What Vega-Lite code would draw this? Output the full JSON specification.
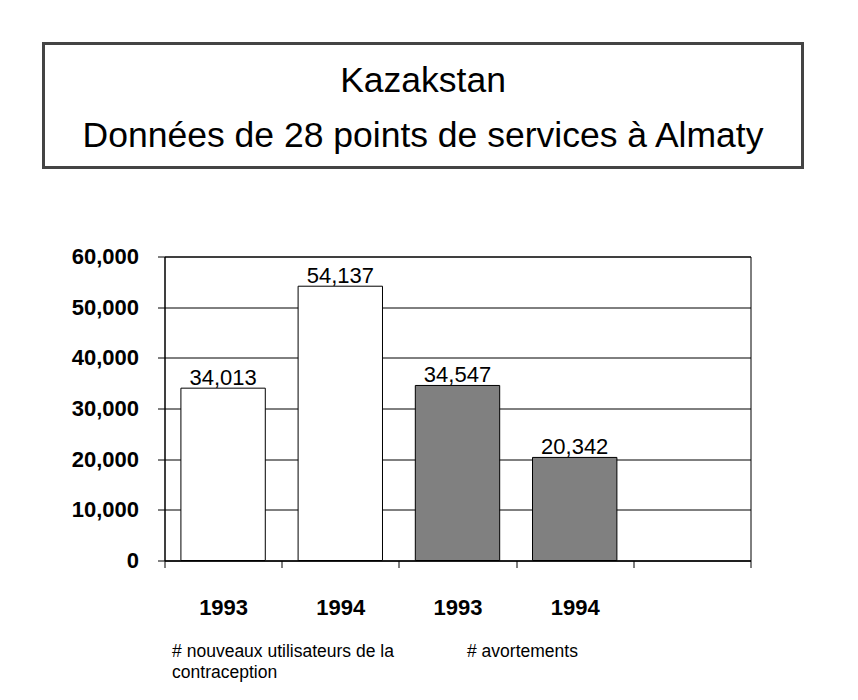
{
  "$schema": "https://vega.github.io/schema/vega-lite/v6.json",
  "padding": {"left": 41.5, "top": 41.5, "right": 0, "bottom": 0},
  "background": "white",
  "config": {"font": "Liberation Sans", "view": {"stroke": null}},
  "spacing": 75,
  "vconcat": [
    {
      "width": 759,
      "height": 124,
      "view": {"stroke": "#444444", "strokeWidth": 3},
      "data": {"values": [
        {"line": "Kazakstan", "i": 1},
        {"line": "Données de 28 points de services à Almaty", "i": 2}
      ]},
      "mark": {"type": "text", "fontSize": 35.5, "baseline": "alphabetic", "dy": 14, "color": "black", "font": "Liberation Sans"},
      "encoding": {
        "y": {"field": "i", "type": "ordinal", "scale": {"type": "point", "padding": 0.627}, "axis": null},
        "text": {"field": "line", "type": "nominal"}
      }
    },
    {
      "spacing": 0,
      "hconcat": [
        {
          "width": 1,
          "height": 304,
          "view": {"stroke": null},
          "data": {"values": []},
          "mark": "point",
          "encoding": {}
        },
        {
          "width": 586,
          "height": 304,
          "view": {"stroke": "black", "strokeWidth": 1},
          "data": {"values": [
            {"id": "1993a", "group": "contraception", "value": 34013},
            {"id": "1994a", "group": "contraception", "value": 54137},
            {"id": "1993b", "group": "avortements", "value": 34547},
            {"id": "1994b", "group": "avortements", "value": 20342}
          ]},
          "layer": [
            {
              "mark": {"type": "bar", "width": {"band": 0.72}, "stroke": "black", "strokeWidth": 1},
              "encoding": {
                "x": {
                  "field": "id", "type": "nominal",
                  "scale": {"domain": ["1993a", "1994a", "1993b", "1994b", "blank"], "paddingInner": 0, "paddingOuter": 0},
                  "axis": {
                    "orient": "bottom", "title": null, "tickBand": "extent",
                    "labelExpr": "isValid(datum.value) && datum.value != 'blank' ? substring(datum.value, 0, 4) : ''",
                    "labelAngle": 0, "labelOverlap": false, "labelFont": "Liberation Sans", "labelFontWeight": "bold",
                    "labelFontSize": 22, "labelColor": "black", "labelPadding": 30, "tickSize": 7,
                    "tickColor": "black", "domainColor": "black", "grid": false
                  }
                },
                "y": {
                  "field": "value", "type": "quantitative",
                  "scale": {"domain": [0, 60000], "nice": false},
                  "axis": {
                    "title": null, "values": [0, 10000, 20000, 30000, 40000, 50000, 60000], "format": ",.0f",
                    "labelFont": "Liberation Sans", "labelFontWeight": "bold", "labelFontSize": 22, "labelColor": "black",
                    "labelPadding": 19, "tickSize": 7, "tickColor": "black", "domainColor": "black",
                    "grid": true, "gridColor": "black", "gridOpacity": 1, "minExtent": 119
                  }
                },
                "fill": {
                  "field": "group", "type": "nominal",
                  "scale": {"domain": ["contraception", "avortements"], "range": ["white", "#808080"]},
                  "legend": null
                }
              }
            },
            {
              "mark": {"type": "text", "baseline": "alphabetic", "dy": -3, "fontSize": 22, "color": "black", "font": "Liberation Sans"},
              "encoding": {
                "x": {
                  "field": "id", "type": "nominal",
                  "axis": {
                    "orient": "bottom", "title": null, "ticks": false, "domain": false, "grid": false,
                    "labelExpr": "datum.value == '1993a' ? ['# nouveaux utilisateurs de la', 'contraception'] : (datum.value == '1993b' ? '# avortements' : '')",
                    "labelAngle": 0, "labelOverlap": false, "labelAlign": "left", "labelBaseline": "top",
                    "labelOffset": {"condition": {"test": "datum.value == '1993a'", "value": -51}, "value": 9.5},
                    "labelFont": "Liberation Sans", "labelFontSize": 17.5, "labelColor": "black", "labelLimit": 0,
                    "labelLineHeight": 21, "labelPadding": 82, "labelBound": false, "labelFlush": false
                  }
                },
                "y": {"field": "value", "type": "quantitative"},
                "text": {"field": "value", "type": "quantitative", "format": ","}
              }
            }
          ],
          "resolve": {"axis": {"x": "independent"}}
        }
      ]
    }
  ]
}
